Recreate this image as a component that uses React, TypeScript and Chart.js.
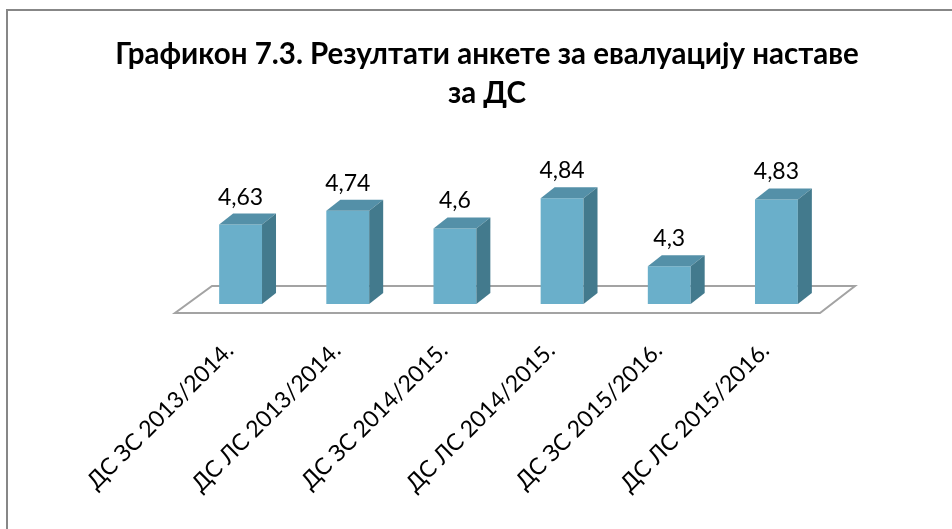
import React, { useEffect, useRef } from "react";
import { Chart, registerables } from "chart.js";

Chart.register(...registerables);

const titleLines = ["Графикон 7.3. Резултати анкете за евалуацију наставе", "за ДС"];
const categories = [
  "ДС ЗС 2013/2014.",
  "ДС ЛС 2013/2014.",
  "ДС ЗС 2014/2015.",
  "ДС ЛС 2014/2015.",
  "ДС ЗС 2015/2016.",
  "ДС ЛС 2015/2016.",
];
const values = [4.63, 4.74, 4.6, 4.84, 4.3, 4.83];
const yMin = 4;
const yMax = 5;

const FONT = "Lato, 'Open Sans', sans-serif";
const FRONT = "#6AAFCA";
const TOP = "#5490A8";
const SIDE = "#437A8D";
const DEPTH_X = 14;
const DEPTH_Y = -11;

const decor = {
  id: "decor3d",
  beforeDatasetsDraw(chart: any) {
    const { ctx, chartArea } = chart;
    const { left, right, bottom } = chartArea;
    ctx.save();
    // outer frame
    ctx.strokeStyle = "#878787";
    ctx.lineWidth = 2;
    ctx.beginPath();
    ctx.moveTo(7, 540);
    ctx.lineTo(7, 10);
    ctx.lineTo(960, 10);
    ctx.stroke();
    // floor
    ctx.strokeStyle = "#A3A3A3";
    ctx.lineWidth = 2;
    ctx.beginPath();
    ctx.moveTo(left - 12, bottom + 9);
    ctx.lineTo(right - 10, bottom + 9);
    ctx.lineTo(right + 25, bottom - 18);
    ctx.lineTo(left + 25, bottom - 18);
    ctx.closePath();
    ctx.stroke();
    // title
    ctx.fillStyle = "#000";
    ctx.textAlign = "center";
    ctx.textBaseline = "alphabetic";
    ctx.font = "bold 29.5px " + FONT;
    ctx.fillText(titleLines[0], 487, 64);
    ctx.fillText(titleLines[1], 487, 103);
    ctx.restore();
  },
  afterDatasetsDraw(chart: any) {
    const { ctx, chartArea } = chart;
    const meta = chart.getDatasetMeta(0);
    ctx.save();
    meta.data.forEach((bar: any, i: number) => {
      const { x, y, width } = bar.getProps(["x", "y", "width"], true);
      const base = Math.min(bar.base, chartArea.bottom);
      const l = x - width / 2;
      const r = x + width / 2;
      // top face
      ctx.fillStyle = TOP;
      ctx.beginPath();
      ctx.moveTo(l, y);
      ctx.lineTo(l + DEPTH_X, y + DEPTH_Y);
      ctx.lineTo(r + DEPTH_X, y + DEPTH_Y);
      ctx.lineTo(r, y);
      ctx.closePath();
      ctx.fill();
      // side face
      ctx.fillStyle = SIDE;
      ctx.beginPath();
      ctx.moveTo(r, y);
      ctx.lineTo(r + DEPTH_X, y + DEPTH_Y);
      ctx.lineTo(r + DEPTH_X, base + DEPTH_Y);
      ctx.lineTo(r, base);
      ctx.closePath();
      ctx.fill();
      // value label
      ctx.fillStyle = "#000";
      ctx.font = "23px " + FONT;
      ctx.textAlign = "center";
      ctx.textBaseline = "alphabetic";
      ctx.fillText(String(values[i]).replace(".", ","), x, y - 20);
    });
    ctx.restore();
  },
};

export default function App() {
  const ref = useRef<HTMLCanvasElement>(null);
  useEffect(() => {
    if (!ref.current) return;
    const chart = new Chart(ref.current, {
      type: "bar",
      data: {
        labels: categories,
        datasets: [
          {
            data: values,
            base: yMin,
            backgroundColor: FRONT,
            borderWidth: 0,
            barPercentage: 0.4,
            categoryPercentage: 1,
          } as any,
        ],
      },
      options: {
        animation: false,
        responsive: false,
        events: [],
        layout: { padding: { left: 187, right: 122, top: 178, bottom: 0 } },
        plugins: {
          legend: { display: false },
          title: { display: false },
          tooltip: { enabled: false },
        },
        scales: {
          x: {
            grid: { display: false, drawTicks: false },
            border: { display: false },
            ticks: {
              autoSkip: false,
              maxRotation: 45,
              minRotation: 45,
              padding: 33,
              labelOffset: -11,
              color: "#000",
              font: { family: FONT, size: 23 },
            },
            afterFit: (scale: any) => {
              scale.height = 529 - 304;
            },
          },
          y: {
            display: false,
            min: yMin,
            max: yMax,
          },
        },
      },
      plugins: [decor],
    });
    return () => chart.destroy();
  }, []);
  return (
    <div style={{ position: "absolute", left: 0, top: 0, width: 952, height: 529, background: "#fff" }}>
      <canvas ref={ref} width={952} height={529} />
    </div>
  );
}
